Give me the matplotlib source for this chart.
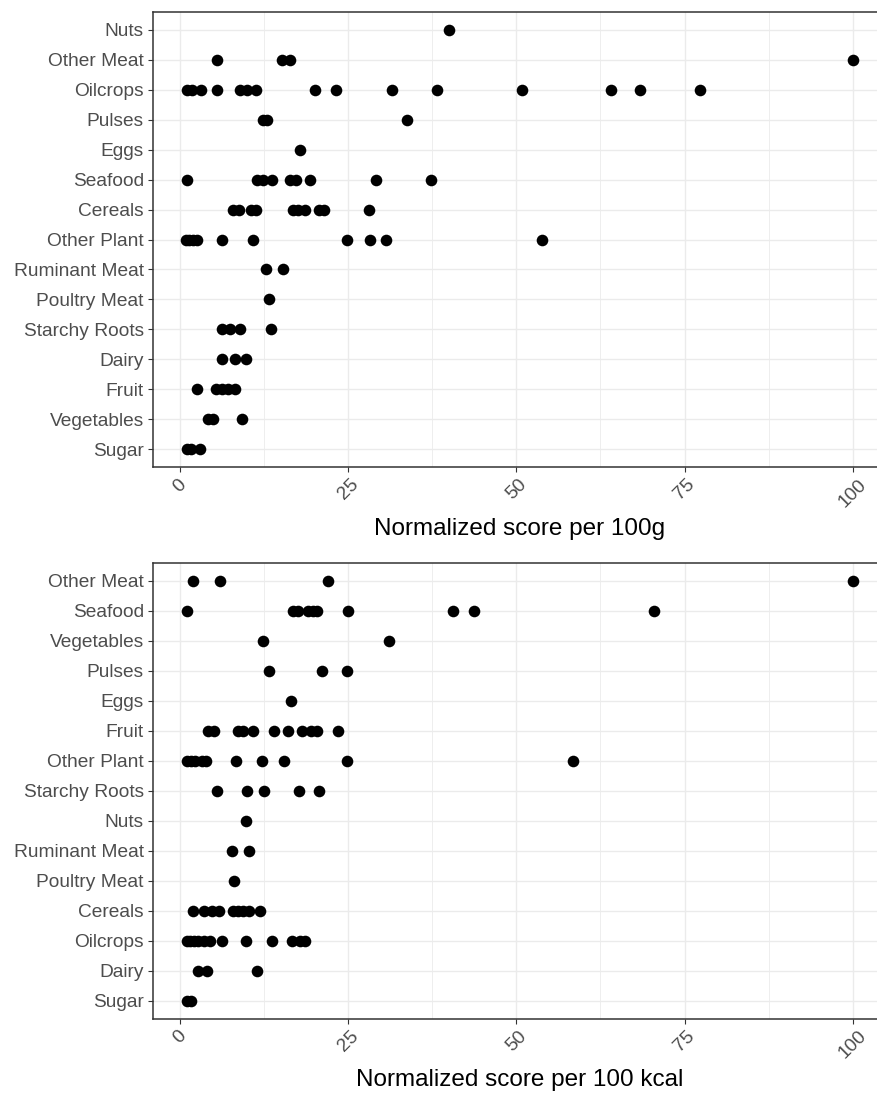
"""
Dot strip charts of normalized food scores per 100g and per 100 kcal.
"""

import matplotlib.pyplot as plt
from matplotlib.ticker import MultipleLocator

plt.rcParams["font.family"] = ["Liberation Sans", "DejaVu Sans"]

# categories, listed from bottom to top of each panel
cats_100g = ["Sugar", "Vegetables", "Fruit", "Dairy", "Starchy Roots", "Poultry Meat",
             "Ruminant Meat", "Other Plant", "Cereals", "Seafood", "Eggs", "Pulses",
             "Oilcrops", "Other Meat", "Nuts"]
cats_kcal = ["Sugar", "Dairy", "Oilcrops", "Cereals", "Poultry Meat", "Ruminant Meat",
             "Nuts", "Starchy Roots", "Other Plant", "Fruit", "Eggs", "Pulses",
             "Vegetables", "Seafood", "Other Meat"]

# scores per 100g
g_nuts = [40.0]
g_other_meat = [5.5, 15.2, 16.3, 100.0]
g_oilcrops = [1.0, 1.8, 3.1, 5.5, 8.9, 10.0, 11.3, 20.1, 23.2, 31.5, 38.2, 50.8, 64.1, 68.4, 77.3]
g_pulses = [12.4, 13.0, 33.8]
g_eggs = [17.8]
g_seafood = [1.0, 11.5, 12.3, 13.6, 16.3, 17.2, 19.3, 29.2, 37.3]
g_cereals = [7.9, 8.8, 10.5, 11.3, 16.8, 17.6, 18.6, 20.6, 21.4, 28.1]
g_other_plant = [0.9, 1.4, 1.9, 2.5, 6.2, 10.8, 24.8, 28.2, 30.6, 53.8]
g_ruminant = [12.8, 15.3]
g_poultry = [13.3]
g_starchy = [6.2, 7.5, 8.9, 13.5]
g_dairy = [6.3, 8.1, 9.8]
g_fruit = [2.5, 5.4, 6.2, 7.1, 8.2]
g_vegetables = [4.2, 4.9, 9.2]
g_sugar = [1.0, 1.6, 2.9]

# scores per 100 kcal
k_other_meat = [1.9, 6.0, 22.0, 100.0]
k_seafood = [1.0, 16.8, 17.6, 19.0, 19.8, 20.4, 24.9, 40.6, 43.7, 70.4]
k_vegetables = [12.4, 31.0]
k_pulses = [13.3, 21.1, 24.8]
k_eggs = [16.5]
k_fruit = [4.2, 5.0, 8.6, 9.3, 10.8, 14.0, 16.1, 18.2, 19.5, 20.3, 23.5]
k_other_plant = [1.0, 1.6, 2.3, 3.2, 3.9, 8.3, 12.2, 15.5, 24.8, 58.4]
k_starchy = [5.5, 9.9, 12.5, 17.7, 20.6]
k_nuts = [9.8]
k_ruminant = [7.8, 10.3]
k_poultry = [8.0]
k_cereals = [2.0, 3.5, 4.7, 5.8, 7.9, 8.6, 9.3, 10.3, 11.9]
k_oilcrops = [1.0, 1.5, 2.1, 2.7, 3.6, 4.4, 6.3, 9.8, 13.6, 16.7, 17.8, 18.6]
k_dairy = [2.6, 4.0, 11.4]
k_sugar = [1.0, 1.6]

vals_100g = {
    "Nuts": g_nuts, "Other Meat": g_other_meat, "Oilcrops": g_oilcrops,
    "Pulses": g_pulses, "Eggs": g_eggs, "Seafood": g_seafood, "Cereals": g_cereals,
    "Other Plant": g_other_plant, "Ruminant Meat": g_ruminant, "Poultry Meat": g_poultry,
    "Starchy Roots": g_starchy, "Dairy": g_dairy, "Fruit": g_fruit,
    "Vegetables": g_vegetables, "Sugar": g_sugar,
}
vals_kcal = {
    "Other Meat": k_other_meat, "Seafood": k_seafood, "Vegetables": k_vegetables,
    "Pulses": k_pulses, "Eggs": k_eggs, "Fruit": k_fruit, "Other Plant": k_other_plant,
    "Starchy Roots": k_starchy, "Nuts": k_nuts, "Ruminant Meat": k_ruminant,
    "Poultry Meat": k_poultry, "Cereals": k_cereals, "Oilcrops": k_oilcrops,
    "Dairy": k_dairy, "Sugar": k_sugar,
}


def strip_panel(ax, cats, vals, xlabel):
    # gray panel border and light grid, in the spirit of theme_bw
    ax.set_axisbelow(True)
    for i, cat in enumerate(cats):
        xs = vals[cat]
        ax.scatter(xs, [i + 1] * len(xs), s=70, color="black", linewidths=0, zorder=3)
    ax.set_xlim(-4.05, 104.95)
    ax.set_ylim(0.4, len(cats) + 0.6)
    ax.set_yticks(range(1, len(cats) + 1))
    ax.set_yticklabels(cats)
    ax.xaxis.set_minor_locator(MultipleLocator(12.5))
    ax.set_xticks([0, 25, 50, 75, 100])
    ax.set_xticklabels(["0", "25", "50", "75", "100"], rotation=45, ha="center", va="top")
    ax.grid(which="major", color="#EBEBEB", linewidth=1.0)
    ax.grid(which="minor", axis="x", color="#EBEBEB", linewidth=0.6)
    ax.tick_params(which="major", length=3.5, width=0.8, color="#333333",
                   labelcolor="#4D4D4D", labelsize=13.8, pad=3)
    ax.tick_params(which="minor", length=0)
    for side in ["left", "bottom", "top"]:
        ax.spines[side].set_color("#333333")
        ax.spines[side].set_linewidth(1.1)
    # the panel runs past the right edge of the picture, so no right border shows
    ax.spines["right"].set_visible(False)
    ax.set_xlabel(xlabel, fontsize=17.5, color="black", labelpad=5)


fig = plt.figure(figsize=(8.77, 10.94), dpi=100)
ax1 = fig.add_axes([0.1742, 0.5731, 0.8361, 0.4159])
ax2 = fig.add_axes([0.1742, 0.0688, 0.8361, 0.4166])

strip_panel(ax1, cats_100g, vals_100g, "Normalized score per 100g")
strip_panel(ax2, cats_kcal, vals_kcal, "Normalized score per 100 kcal")

fig.savefig("out.png", dpi=100)
